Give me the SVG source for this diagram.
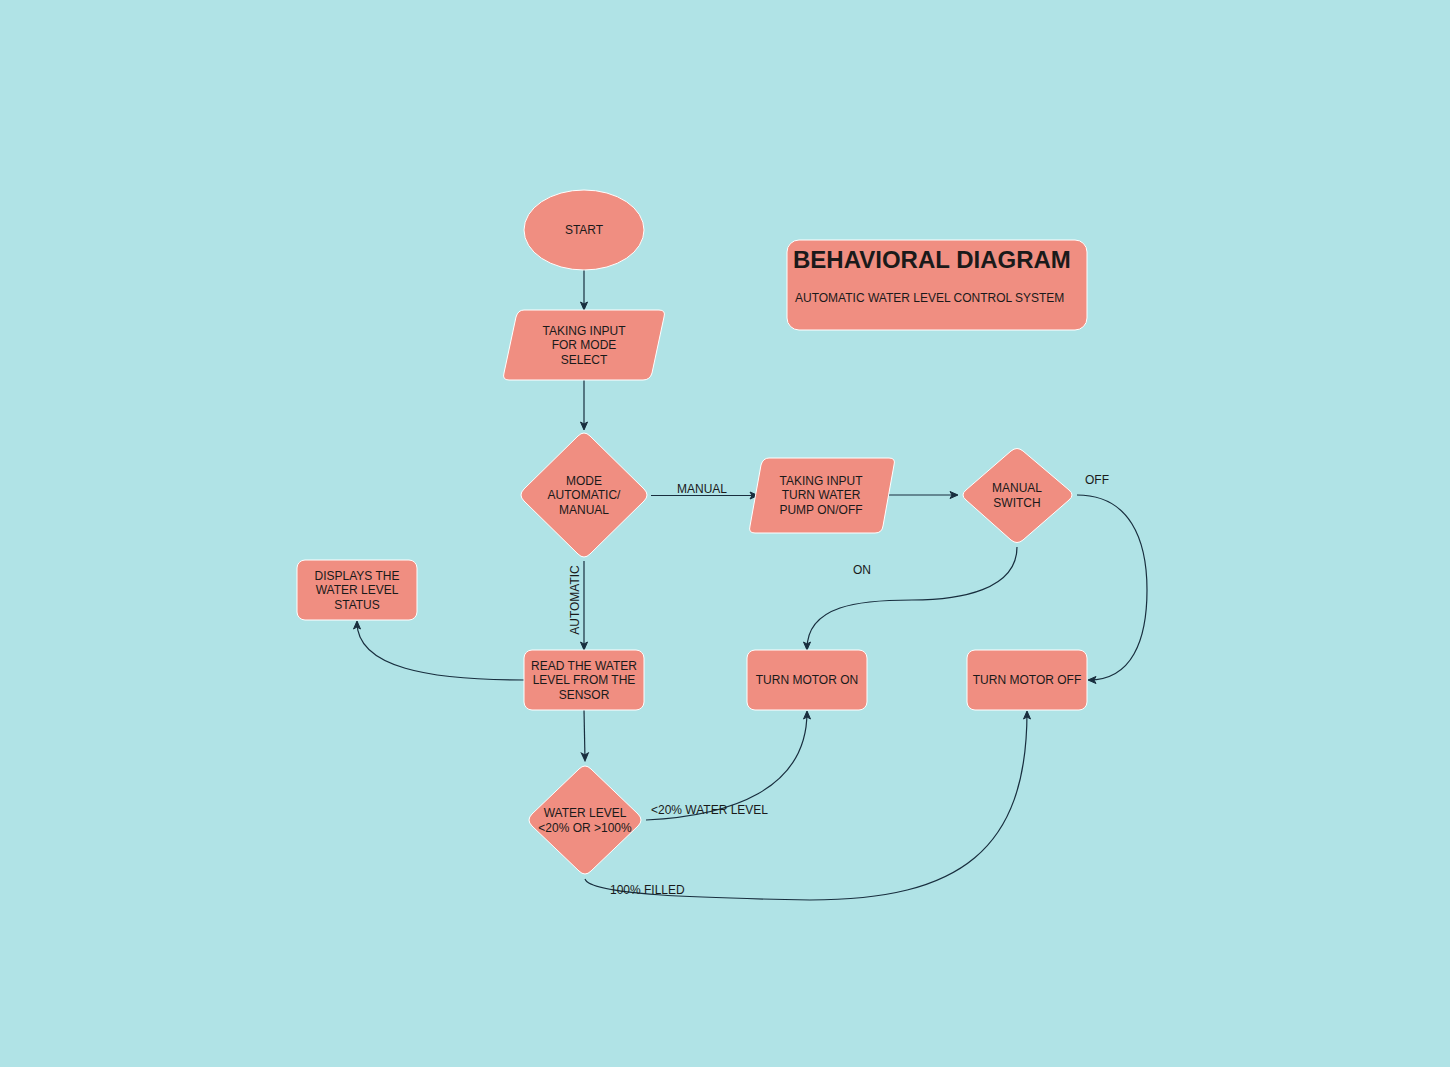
<svg xmlns="http://www.w3.org/2000/svg" width="1450" height="1067" viewBox="0 0 1450 1067">
<style>
.n{fill:#f08e81;stroke:#ffffff;stroke-width:1}
.t{font-family:"Liberation Sans",Arial,sans-serif;font-size:12px;fill:#1a1a1a;text-anchor:middle}
.l{font-family:"Liberation Sans",Arial,sans-serif;font-size:12px;fill:#1a1a1a}
.e{fill:none;stroke:#182e3e;stroke-width:1.2}
</style>
<defs>
<marker id="a" markerWidth="10" markerHeight="10" refX="8" refY="5" orient="auto" markerUnits="userSpaceOnUse">
<path d="M1,1.5 L9,5 L1,8.5 L3,5 Z" fill="#182e3e" stroke="#182e3e" stroke-width="1"/>
</marker>
</defs>
<rect width="1450" height="1067" fill="#b0e3e6"/>
<g id="connectors">
<path class="e" d="M584,270 L584,309" marker-end="url(#a)"/>
<path class="e" d="M584,380 L584,429" marker-end="url(#a)"/>
<path class="e" d="M651,495.5 L757,495.5" marker-end="url(#a)"/>
<text class="t" x="702" y="493">MANUAL</text>
<path class="e" d="M887,495 L957,495" marker-end="url(#a)"/>
<path class="e" d="M1077,495 C1130,495 1147,540 1147,590 C1147,640 1132,680 1089,680" marker-end="url(#a)"/>
<text class="t" x="1097" y="484">OFF</text>
<path class="e" d="M1017,547 C1017,590 960,600 912,600 C860,600 807,605 807,649" marker-end="url(#a)"/>
<text class="t" x="862" y="574">ON</text>
<path class="e" d="M584,561 L584,649" marker-end="url(#a)"/>
<text class="t" transform="translate(579,600) rotate(-90)">AUTOMATIC</text>
<path class="e" d="M524,680 C430,680 357,668 357,622" marker-end="url(#a)"/>
<path class="e" d="M584,710 L585,760" marker-end="url(#a)"/>
<path class="e" d="M646,820 C730,816 807,790 807,712" marker-end="url(#a)"/>
<text class="l" x="651" y="814">&lt;20% WATER LEVEL</text>
<path class="e" d="M585,879 C590,895 700,898 810,900 C960,900 1027,850 1027,712" marker-end="url(#a)"/>
<text class="l" x="610" y="894">100% FILLED</text>
</g>
<g id="start">
<ellipse class="n" cx="584" cy="230" rx="60" ry="40"/>
<text class="t" x="584" y="234">START</text>
</g>
<g id="input-mode">
<path class="n" d="M524,310 L659,310 Q666,310 664,317 L652,373 Q650,380 643,380 L509,380 Q502,380 504,373 L516,317 Q518,310 524,310 Z"/>
<text class="t" x="584" y="335">TAKING INPUT</text>
<text class="t" x="584" y="349">FOR MODE</text>
<text class="t" x="584" y="364">SELECT</text>
</g>
<g id="mode-decision">
<path class="n" d="M578,436 Q584,430 590,436 L644,489 Q650,495 644,501 L590,554 Q584,560 578,554 L524,501 Q518,495 524,489 Z"/>
<text class="t" x="584" y="485">MODE</text>
<text class="t" x="584" y="499">AUTOMATIC/</text>
<text class="t" x="584" y="514">MANUAL</text>
</g>
<g id="input-pump">
<path class="n" d="M769,458 L889,458 Q896,458 894,465 L883,526 Q882,533 875,533 L755,533 Q748,533 750,526 L761,465 Q763,458 769,458 Z"/>
<text class="t" x="821" y="485">TAKING INPUT</text>
<text class="t" x="821" y="499">TURN WATER</text>
<text class="t" x="821" y="514">PUMP ON/OFF</text>
</g>
<g id="manual-switch">
<path class="n" d="M1011,451 Q1017,446 1023,451 L1069,490 Q1075,495 1069,500 L1023,540 Q1017,545 1011,540 L966,500 Q960,495 966,490 Z"/>
<text class="t" x="1017" y="492">MANUAL</text>
<text class="t" x="1017" y="507">SWITCH</text>
</g>
<g id="displays">
<rect class="n" x="297" y="560" width="120" height="60" rx="8"/>
<text class="t" x="357" y="580">DISPLAYS THE</text>
<text class="t" x="357" y="594">WATER LEVEL</text>
<text class="t" x="357" y="609">STATUS</text>
</g>
<g id="read-sensor">
<rect class="n" x="524" y="650" width="120" height="60" rx="8"/>
<text class="t" x="584" y="670">READ THE WATER</text>
<text class="t" x="584" y="684">LEVEL FROM THE</text>
<text class="t" x="584" y="699">SENSOR</text>
</g>
<g id="motor-on">
<rect class="n" x="747" y="650" width="120" height="60" rx="8"/>
<text class="t" x="807" y="684">TURN MOTOR ON</text>
</g>
<g id="motor-off">
<rect class="n" x="967" y="650" width="120" height="60" rx="8"/>
<text class="t" x="1027" y="684">TURN MOTOR OFF</text>
</g>
<g id="level-decision">
<path class="n" d="M579,769 Q585,763 591,769 L638,814 Q644,820 638,826 L591,871 Q585,877 579,871 L532,826 Q526,820 532,814 Z"/>
<text class="t" x="585" y="817">WATER LEVEL</text>
<text class="t" x="585" y="832">&lt;20% OR &gt;100%</text>
</g>
<g id="title">
<rect class="n" x="787" y="240" width="300" height="90" rx="12"/>
<text x="793" y="268" style="font-family:'Liberation Sans',Arial,sans-serif;font-size:24px;font-weight:bold;fill:#1a1a1a">BEHAVIORAL DIAGRAM</text>
<text class="l" x="795" y="302">AUTOMATIC WATER LEVEL CONTROL SYSTEM</text>
</g>
</svg>
